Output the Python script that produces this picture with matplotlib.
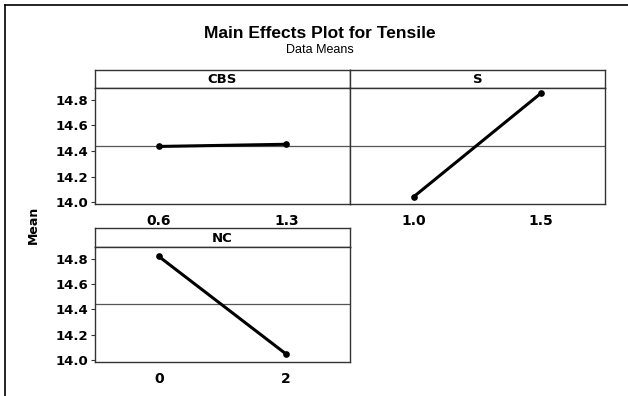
import numpy as np
import matplotlib.pyplot as plt
from matplotlib.lines import Line2D

# Data
factors = ['CBS', 'S', 'NC']
cbs_levels = ['0.6', '1.3']
cbs_means = [14.435, 14.452]
s_levels = ['1.0', '1.5']
s_means = [14.042, 14.853]
nc_levels = ['0', '2']
nc_means = [14.818, 14.047]
grand_mean = 14.442
yticks = [14.0, 14.2, 14.4, 14.6, 14.8]

W, H = 628, 396
fig = plt.figure(figsize=(W / 100, H / 100), dpi=100)
fig.patch.set_facecolor('white')


def add_px(left, top, right, bottom):
    return fig.add_axes([left / W, 1 - bottom / H, (right - left) / W, (bottom - top) / H])


# outer frame (only top and left visible)
fig.add_artist(Line2D([5 / W, 1.0], [1 - 5 / H, 1 - 5 / H], color='black', lw=1.2))
fig.add_artist(Line2D([5 / W, 5 / W], [0.0, 1 - 5 / H], color='black', lw=1.2))

fig.text(320 / W, 1 - 34 / H, 'Main Effects Plot for Tensile', ha='center', va='center',
         fontsize=12.5, fontweight='bold', family='Liberation Sans')
fig.text(320 / W, 1 - 50 / H, 'Data Means', ha='center', va='center',
         fontsize=9, family='Liberation Sans')
fig.text(33 / W, 1 - 225 / H, 'Mean', ha='center', va='center', rotation=90,
         fontsize=9, fontweight='bold')

panels = [
    ('CBS', cbs_levels, cbs_means, (95, 70, 350, 88, 204), True),
    ('S', s_levels, s_means, (350, 70, 605, 88, 204), False),
    ('NC', nc_levels, nc_means, (95, 228, 350, 247, 362), True),
]

edge = '#333333'
for name, levels, means, (l, t, r, hb, b), show_y in panels:
    hax = add_px(l, t, r, hb)
    hax.set_xticks([])
    hax.set_yticks([])
    for s in hax.spines.values():
        s.set_color(edge)
        s.set_linewidth(1.0)
    hax.text(0.5, 0.45, name, ha='center', va='center', transform=hax.transAxes,
             fontsize=9.5, fontweight='bold')

    ax = add_px(l, hb, r, b)
    pos = np.arange(1, len(levels) + 1)
    ax.axhline(grand_mean, color='#555555', lw=0.9, zorder=1)
    ax.plot(pos, means, color='black', lw=2.2, marker='o', ms=3.8, zorder=3)
    ax.set_xlim(0.5, len(levels) + 0.5)
    ax.set_ylim(13.985, 14.892)
    ax.set_xticks(pos)
    ax.set_xticklabels(levels, fontsize=10, fontweight='bold')
    ax.tick_params(axis='x', length=0, pad=7)
    ax.set_yticks(yticks)
    if show_y:
        ax.set_yticklabels([f'{v:.1f}' for v in yticks], fontsize=9.5, fontweight='bold')
        ax.tick_params(axis='y', length=3, width=0.8, color=edge, pad=2)
    else:
        ax.tick_params(axis='y', length=0, labelleft=False)
    for s in ax.spines.values():
        s.set_color(edge)
        s.set_linewidth(1.0)

fig.savefig('out.png', dpi=100, facecolor='white')
